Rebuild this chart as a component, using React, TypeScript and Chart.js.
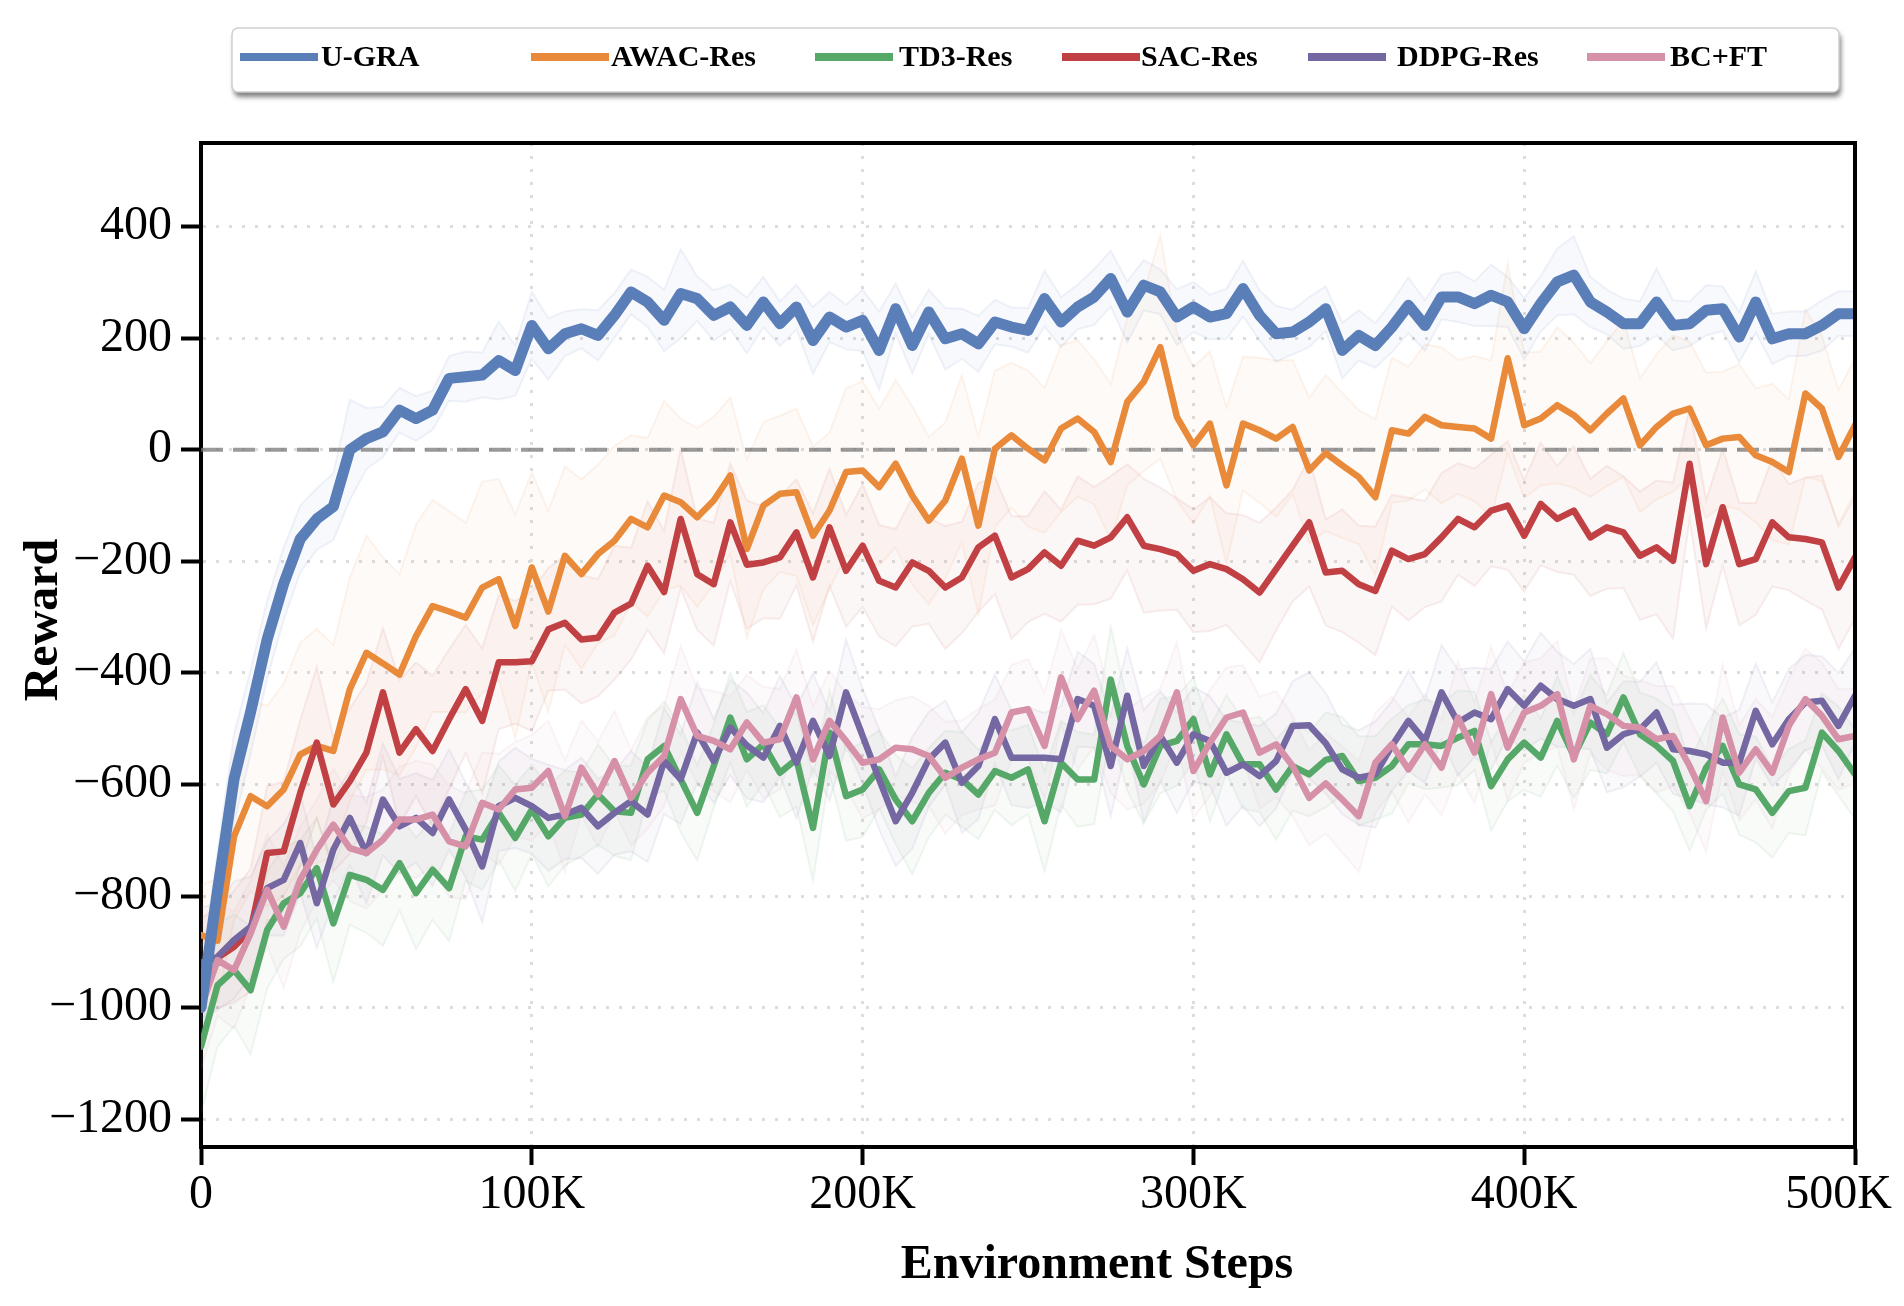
import { useEffect, useRef } from "react";
import { Chart, registerables } from "chart.js";

const SERIF = "'Liberation Serif', 'Times New Roman', serif";

// x sampling: one point every 5K steps, 0 .. 500K
const STEP = 5000;
const X_TICKS = [0, 100000, 200000, 300000, 400000, 500000];
const Y_TICKS = [400, 200, 0, -200, -400, -600, -800, -1000, -1200];
const Y_MIN = -1250;
const Y_MAX = 550;
const X_MAX = 500000;
const ZERO_LEVEL = 0;

const LABELS = ["U-GRA", "AWAC-Res", "TD3-Res", "SAC-Res", "DDPG-Res", "BC+FT"];
const COLORS = ["#5A7EB8", "#E88A3A", "#55A868", "#C04043", "#7467A2", "#D691A9"];

const U_GRA = [
  -1000, -790, -590, -470, -340, -240, -160, -124, -102, 0,
  20, 32, 71, 56, 71, 128, 131, 134, 160, 142,
  223, 181, 208, 217, 205, 241, 283, 265, 232, 280,
  271, 241, 256, 223, 265, 226, 256, 196, 238, 220,
  232, 178, 253, 187, 247, 199, 208, 190, 229, 220,
  214, 271, 229, 256, 274, 307, 247, 295, 283, 238,
  256, 238, 244, 289, 241, 208, 211, 229, 253, 178,
  205, 187, 220, 259, 223, 274, 274, 262, 277, 265,
  217, 262, 301, 313, 265, 247, 226, 226, 265, 223,
  226, 250, 253, 202, 265, 199, 208, 208, 223, 244,
  244,
];

const AWAC_RES = [
  -870, -880, -693, -621, -639, -609, -546, -531, -540, -429,
  -364, -383, -403, -334, -280, -290, -301, -247, -232, -316,
  -211, -290, -190, -223, -187, -163, -124, -139, -82, -94,
  -121, -91, -46, -178, -100, -79, -76, -154, -109, -40,
  -37, -67, -25, -82, -127, -91, -16, -136, 2, 26,
  2, -19, 38, 56, 32, -22, 86, 122, 184, 59,
  8, 47, -64, 47, 35, 20, 41, -37, -6, -28,
  -49, -85, 35, 29, 59, 44, 41, 38, 20, 164,
  44, 56, 80, 62, 35, 65, 92, 8, 41, 65,
  74, 8, 20, 23, -10, -22, -40, 101, 74, -13,
  44,
];

const TD3_RES = [
  -1070, -960, -933, -969, -861, -813, -795, -750, -849, -762,
  -771, -789, -741, -795, -753, -786, -693, -699, -651, -696,
  -645, -693, -660, -654, -618, -648, -651, -555, -531, -591,
  -651, -567, -480, -555, -528, -579, -555, -678, -507, -621,
  -609, -573, -627, -666, -615, -579, -591, -618, -576, -588,
  -573, -666, -561, -591, -591, -412, -531, -600, -531, -522,
  -483, -582, -510, -564, -564, -609, -567, -582, -556, -549,
  -594, -588, -567, -528, -528, -531, -516, -504, -603, -555,
  -525, -552, -486, -549, -489, -510, -444, -510, -531, -558,
  -639, -570, -531, -600, -609, -651, -612, -606, -507, -540,
  -582,
];

const SAC_RES = [
  -920, -911, -891, -861, -723, -720, -615, -525, -636, -594,
  -543, -435, -543, -501, -540, -483, -429, -486, -381, -381,
  -379, -322, -310, -340, -337, -292, -276, -208, -255, -124,
  -223, -241, -130, -206, -202, -193, -148, -229, -139, -217,
  -172, -235, -247, -202, -217, -247, -229, -175, -154, -229,
  -214, -184, -208, -163, -172, -157, -121, -172, -178, -187,
  -217, -205, -214, -232, -256, -214, -172, -130, -220, -217,
  -241, -253, -181, -196, -187, -157, -124, -139, -109, -100,
  -154, -97, -124, -109, -157, -139, -148, -190, -175, -199,
  -25, -205, -103, -205, -196, -130, -157, -160, -166, -247,
  -193,
];

const DDPG_RES = [
  -920, -909, -879, -855, -786, -771, -705, -813, -717, -660,
  -723, -627, -675, -660, -687, -627, -681, -747, -639, -624,
  -639, -660, -654, -642, -675, -651, -630, -654, -558, -591,
  -507, -558, -498, -530, -552, -495, -561, -486, -549, -435,
  -513, -591, -666, -615, -555, -525, -597, -567, -483, -552,
  -552, -552, -555, -447, -459, -567, -441, -567, -513, -561,
  -510, -522, -579, -564, -585, -558, -495, -494, -526, -573,
  -588, -582, -531, -486, -522, -435, -489, -471, -483, -429,
  -459, -423, -447, -459, -447, -534, -510, -501, -471, -537,
  -540, -546, -561, -561, -468, -528, -483, -453, -450, -495,
  -441,
];

const BC_FT = [
  -1000, -915, -933, -867, -789, -855, -771, -717, -672, -714,
  -723, -699, -663, -663, -654, -702, -711, -633, -645, -609,
  -606, -576, -657, -570, -618, -558, -624, -579, -549, -447,
  -513, -522, -537, -489, -525, -519, -444, -555, -486, -522,
  -561, -555, -534, -537, -549, -588, -570, -555, -543, -471,
  -465, -531, -408, -483, -432, -531, -555, -540, -513, -435,
  -576, -525, -480, -471, -543, -528, -567, -624, -598, -627,
  -657, -561, -528, -573, -528, -570, -480, -543, -438, -534,
  -471, -459, -438, -555, -459, -474, -495, -498, -519, -513,
  -567, -630, -480, -579, -537, -579, -495, -447, -477, -519,
  -513,
];

// half-widths of the shaded bands
const U_GRA_STD = [
  60, 70, 80, 75, 70, 65, 60, 55, 60, 90,
  55, 45, 40, 40, 35, 40, 45, 40, 70, 45,
  60, 55, 40, 35, 45, 40, 40, 45, 55, 80,
  40, 45, 40, 50, 45, 40, 40, 60, 45, 40,
  55, 70, 45, 50, 40, 55, 45, 50, 40, 35,
  40, 50, 45, 40, 50, 50, 55, 45, 40, 50,
  45, 40, 45, 50, 45, 50, 40, 45, 40, 50,
  45, 40, 45, 50, 45, 40, 45, 40, 55, 45,
  55, 50, 60, 70, 45, 40, 45, 40, 60, 45,
  40, 45, 40, 45, 55, 45, 40, 40, 45, 40,
  40,
];

const AWAC_RES_STD = [
  90, 110, 150, 170, 180, 190, 200, 210, 190, 200,
  210, 190, 180, 200, 190, 180, 170, 190, 180, 200,
  170, 180, 160, 170, 160, 170, 150, 160, 170, 150,
  160, 150, 140, 160, 150, 140, 150, 160, 140, 150,
  160, 140, 150, 160, 150, 140, 150, 160, 140, 130,
  140, 130, 150, 140, 130, 140, 150, 160, 200, 150,
  140, 130, 140, 120, 130, 140, 120, 130, 140, 130,
  120, 140, 130, 120, 130, 140, 120, 130, 140, 170,
  130, 120, 140, 130, 120, 130, 140, 120, 130, 140,
  120, 130, 120, 130, 120, 140, 130, 150, 130, 120,
  120,
];

const TD3_RES_STD = [
  120, 110, 100, 115, 105, 100, 95, 90, 105, 90,
  95, 100, 85, 100, 90, 95, 80, 90, 85, 95,
  80, 90, 85, 75, 90, 80, 85, 70, 80, 95,
  85, 75, 80, 85, 70, 80, 85, 95, 75, 80,
  85, 70, 80, 95, 80, 75, 85, 80, 70, 85,
  80, 90, 75, 85, 80, 95, 80, 70, 85, 80,
  75, 85, 70, 80, 85, 90, 80, 75, 85, 70,
  80, 75, 85, 70, 80, 75, 85, 70, 80, 75,
  85, 70, 80, 75, 85, 70, 80, 75, 85, 90,
  80, 75, 85, 90, 95, 80, 75, 85, 70, 80,
  80,
];

const SAC_RES_STD = [
  80, 90, 100, 110, 120, 125, 130, 135, 120, 130,
  125, 115, 130, 120, 135, 125, 115, 130, 120, 110,
  125, 110, 120, 115, 105, 120, 100, 115, 110, 125,
  100, 110, 105, 115, 100, 110, 95, 115, 105, 100,
  110, 100, 105, 115, 95, 110, 100, 115, 105, 110,
  95, 110, 100, 115, 105, 110, 95, 120, 110, 100,
  110, 120, 100, 115, 125, 110, 100, 115, 95, 110,
  105, 115, 100, 110, 95, 115, 100, 105, 100, 115,
  100, 110, 95, 115, 105, 110, 100, 115, 120, 140,
  100, 115, 105, 110, 100, 115, 95, 110, 120, 110,
  110,
];

const DDPG_RES_STD = [
  100, 95, 105, 90, 85, 100, 90, 80, 95, 85,
  90, 100, 85, 80, 95, 90, 85, 100, 80, 90,
  85, 95, 80, 90, 85, 75, 90, 85, 95, 80,
  90, 75, 85, 95, 80, 90, 100, 85, 80, 95,
  85, 90, 80, 100, 85, 75, 90, 95, 80, 85,
  90, 80, 95, 85, 75, 90, 85, 100, 80, 90,
  85, 80, 95, 75, 90, 85, 80, 95, 90, 80,
  85, 95, 80, 90, 75, 85, 95, 80, 90, 85,
  80, 95, 85, 75, 90, 80, 95, 85, 90, 80,
  85, 90, 80, 95, 85, 75, 90, 85, 80, 95,
  85,
];

const BC_FT_STD = [
  110, 100, 105, 95, 100, 110, 95, 90, 100, 95,
  100, 90, 95, 105, 90, 100, 95, 90, 100, 85,
  95, 90, 100, 85, 95, 90, 85, 100, 90, 95,
  85, 90, 95, 85, 100, 90, 85, 95, 90, 85,
  100, 90, 85, 95, 90, 100, 85, 90, 95, 85,
  90, 95, 85, 90, 100, 85, 90, 95, 85, 90,
  85, 95, 90, 85, 100, 95, 90, 85, 90, 95,
  100, 90, 85, 95, 90, 85, 100, 90, 85, 95,
  90, 85, 95, 90, 85, 100, 90, 85, 95, 90,
  85, 90, 95, 85, 90, 100, 85, 90, 95, 90,
  85,
];

const MEANS = [U_GRA, AWAC_RES, TD3_RES, SAC_RES, DDPG_RES, BC_FT];
const STDS = [U_GRA_STD, AWAC_RES_STD, TD3_RES_STD, SAC_RES_STD, DDPG_RES_STD, BC_FT_STD];

// lower order is drawn on top: U-GRA, then BC+FT, DDPG, SAC, TD3, AWAC
const LINE_ORDER = [1, 6, 5, 4, 3, 2];

// legend layout (line sample start, text start) in canvas pixels
const LEGEND_LINE_X = [240, 531, 815, 1062, 1308, 1587];
const LEGEND_TEXT_X = [321, 611, 899, 1141, 1397, 1670];

const rgba = (hex: string, a: number) => {
  const n = parseInt(hex.slice(1), 16);
  return `rgba(${(n >> 16) & 255}, ${(n >> 8) & 255}, ${n & 255}, ${a})`;
};

const toPoints = (ys: number[]) => ys.map((y, i) => ({ x: i * STEP, y }));

const fmtY = (v: number) => (v < 0 ? `\u2212${Math.abs(v)}` : `${v}`);
const fmtX = (v: number) => (v === 0 ? "0" : `${v / 1000}K`);

const overlay = {
  id: "overlay",
  afterDraw(chart: any) {
    const { ctx, chartArea: a, scales } = chart;
    ctx.save();

    // top and right frame
    ctx.strokeStyle = "#000";
    ctx.lineWidth = 4;
    ctx.beginPath();
    ctx.moveTo(a.left - 2, a.top);
    ctx.lineTo(a.right, a.top);
    ctx.lineTo(a.right, a.bottom + 2);
    ctx.stroke();

    // x tick labels
    ctx.fillStyle = "#000";
    ctx.font = `48px ${SERIF}`;
    ctx.textAlign = "center";
    ctx.textBaseline = "alphabetic";
    X_TICKS.forEach((v) => {
      const label = fmtX(v);
      const w = ctx.measureText(label).width;
      const px = Math.min(scales.x.getPixelForValue(v), chart.width - w / 2 - 12);
      ctx.fillText(label, px, a.bottom + 61);
    });

    // axis titles
    ctx.font = `bold 48px ${SERIF}`;
    ctx.fillText("Environment Steps", (a.left + a.right) / 2 + 69, a.bottom + 131);
    ctx.save();
    ctx.translate(57, (a.top + a.bottom) / 2 - 25);
    ctx.rotate(-Math.PI / 2);
    ctx.fillText("Reward", 0, 0);
    ctx.restore();

    // legend box
    const bx = 232, by = 28, bw = 1607, bh = 64, r = 6;
    ctx.save();
    ctx.shadowColor = "rgba(0,0,0,0.5)";
    ctx.shadowBlur = 5;
    ctx.shadowOffsetX = 2;
    ctx.shadowOffsetY = 5;
    ctx.beginPath();
    ctx.roundRect(bx, by, bw, bh, r);
    ctx.fillStyle = "#fff";
    ctx.fill();
    ctx.restore();
    ctx.beginPath();
    ctx.roundRect(bx, by, bw, bh, r);
    ctx.strokeStyle = "#cfcfcf";
    ctx.lineWidth = 1.5;
    ctx.stroke();

    const cy = by + 29;
    ctx.font = `bold 30px ${SERIF}`;
    ctx.textAlign = "left";
    ctx.textBaseline = "middle";
    LABELS.forEach((label, k) => {
      ctx.strokeStyle = COLORS[k];
      ctx.lineWidth = 8;
      ctx.beginPath();
      ctx.moveTo(LEGEND_LINE_X[k], cy);
      ctx.lineTo(LEGEND_LINE_X[k] + 78, cy);
      ctx.stroke();
      ctx.fillStyle = "#000";
      ctx.fillText(label, LEGEND_TEXT_X[k], cy + 1);
    });

    ctx.restore();
  },
};

const App = () => {
  const canvasRef = useRef<HTMLCanvasElement>(null);

  useEffect(() => {
    const ctx = canvasRef.current?.getContext("2d");
    if (!ctx) {
      return;
    }

    Chart.register(...registerables);
    Chart.defaults.font.family = SERIF;

    const datasets: any[] = [];
    MEANS.forEach((mean, k) => {
      const std = STDS[k];
      const color = COLORS[k];
      datasets.push({
        label: `${LABELS[k]} upper`,
        data: toPoints(mean.map((m, i) => m + std[i])),
        borderColor: rgba(color, 0.09),
        borderWidth: 2,
        pointRadius: 0,
        fill: false,
        order: 20 + k,
      });
      datasets.push({
        label: `${LABELS[k]} lower`,
        data: toPoints(mean.map((m, i) => m - std[i])),
        borderColor: rgba(color, 0.09),
        backgroundColor: rgba(color, 0.045),
        borderWidth: 2,
        pointRadius: 0,
        fill: "-1",
        order: 20 + k,
      });
      datasets.push({
        label: LABELS[k],
        data: toPoints(mean),
        borderColor: color,
        borderWidth: k === 0 ? 11 : 6.5,
        borderJoinStyle: "round",
        borderCapStyle: "round",
        pointRadius: 0,
        fill: false,
        order: LINE_ORDER[k],
      });
    });

    datasets.push({
      label: "zero",
      data: [
        { x: 0, y: ZERO_LEVEL },
        { x: X_MAX, y: ZERO_LEVEL },
      ],
      borderColor: "rgba(120,120,120,0.75)",
      borderWidth: 4,
      borderDash: [22, 10],
      pointRadius: 0,
      fill: false,
      order: 10,
    });

    const gridCommon = {
      color: "#dcdcdc",
      lineWidth: 3,
      drawTicks: true,
      tickColor: "#000",
      tickWidth: 4,
    };

    const chart = new Chart(ctx, {
      type: "line",
      data: { datasets },
      plugins: [overlay],
      options: {
        animation: false,
        responsive: true,
        maintainAspectRatio: false,
        layout: { padding: { top: 143, right: 49, bottom: 0, left: 0 } },
        plugins: {
          legend: { display: false },
          tooltip: { enabled: false },
        },
        elements: { line: { tension: 0 } },
        scales: {
          x: {
            type: "linear",
            min: 0,
            max: X_MAX,
            afterBuildTicks: (s: any) => {
              s.ticks = X_TICKS.map((value) => ({ value }));
            },
            afterFit: (s: any) => {
              s.height = 159;
              s.paddingLeft = 0;
              s.paddingRight = 0;
            },
            ticks: { display: false },
            grid: { ...gridCommon, tickLength: 18 },
            border: { display: true, color: "#000", width: 4, dash: [3, 10] },
          },
          y: {
            type: "linear",
            min: Y_MIN,
            max: Y_MAX,
            afterBuildTicks: (s: any) => {
              s.ticks = Y_TICKS.map((value) => ({ value }));
            },
            afterFit: (s: any) => {
              s.width = 201;
            },
            ticks: {
              color: "#000",
              padding: 9,
              font: { family: SERIF, size: 48 },
              callback: (v: any) => fmtY(Number(v)),
            },
            grid: { ...gridCommon, tickLength: 20 },
            border: { display: true, color: "#000", width: 4, dash: [3, 10] },
          },
        },
      },
    } as any);

    return () => {
      chart.destroy();
    };
  }, []);

  return (
    <div style={{ position: "fixed", left: 0, top: 0, width: "1904px", height: "1306px", background: "#fff" }}>
      <canvas ref={canvasRef} />
    </div>
  );
};

export default App;
